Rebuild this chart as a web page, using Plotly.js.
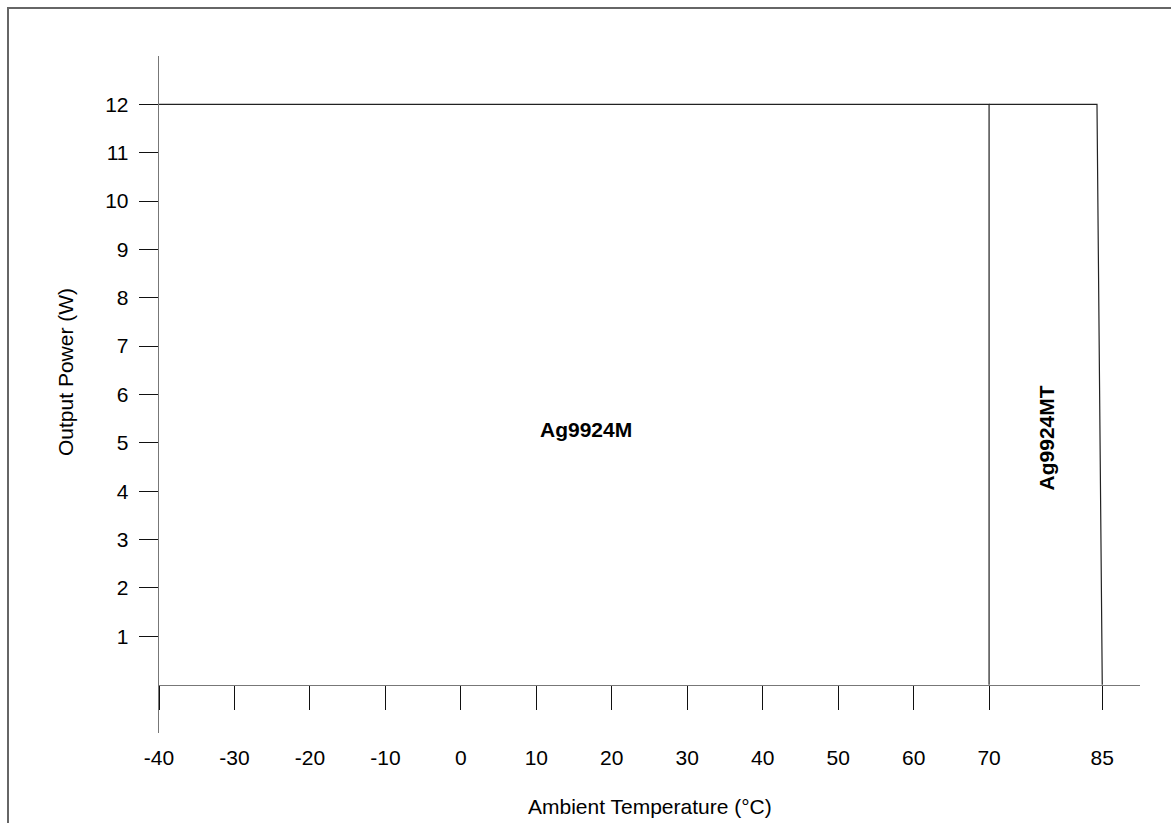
<!DOCTYPE html>
<html>
<head>
<meta charset="utf-8">
<script src="https://cdn.plot.ly/plotly-3.0.1.min.js"></script>
<style>
  html, body { margin: 0; padding: 0; background: #fff; }
  #chart { width: 1171px; height: 823px; }
</style>
</head>
<body>
<div id="chart"></div>
<script>
// Derating curves: Output Power (W) vs Ambient Temperature (°C)
const tempAg9924M = [-40, 70, 70];
const powerAg9924M = [12, 12, 0];
const tempAg9924MT = [70, 84.3, 85];
const powerAg9924MT = [12, 12, 0];

const xTickValues = [-40, -30, -20, -10, 0, 10, 20, 30, 40, 50, 60, 70, 85];
const xTickLabels = ['-40', '-30', '-20', '-10', '0', '10', '20', '30', '40', '50', '60', '70', '85'];
const yTickValues = [1, 2, 3, 4, 5, 6, 7, 8, 9, 10, 11, 12];
const yTickLabels = ['1', '2', '3', '4', '5', '6', '7', '8', '9', '10', '11', '12'];

const seriesLabels = ['Ag9924M', 'Ag9924MT'];
const xTitle = 'Ambient Temperature (°C)';
const yTitle = 'Output Power (W)';

const FONT = 'Liberation Sans, Arial, Helvetica, sans-serif';
const FS = 21;

const traces = [
  { x: tempAg9924M, y: powerAg9924M, mode: 'lines', name: seriesLabels[0],
    line: { color: '#222', width: 1.2 }, hoverinfo: 'skip' },
  { x: tempAg9924MT, y: powerAg9924MT, mode: 'lines', name: seriesLabels[1],
    line: { color: '#222', width: 1.2 }, hoverinfo: 'skip' }
];

const layout = {
  width: 1171, height: 823,
  margin: { l: 159, r: 31, t: 56, b: 90, pad: 0 },
  paper_bgcolor: '#fff', plot_bgcolor: '#fff',
  showlegend: false,
  font: { family: FONT, size: FS, color: '#000' },
  xaxis: {
    range: [-40, 90],
    anchor: 'free', position: 1 / 14,
    showgrid: false, zeroline: false,
    showline: true, linecolor: '#777', linewidth: 1.3,
    ticks: 'outside', ticklen: 24, tickwidth: 1, tickcolor: '#111',
    tickmode: 'array', tickvals: xTickValues, ticktext: xTickLabels,
    ticklabelstandoff: 30,
    tickfont: { family: FONT, size: FS, color: '#000' },
    fixedrange: true
  },
  yaxis: {
    range: [-1, 13],
    showgrid: false, zeroline: false,
    showline: true, linecolor: '#777', linewidth: 1.3,
    ticks: 'outside', ticklen: 19, tickwidth: 1, tickcolor: '#111',
    tickmode: 'array', tickvals: yTickValues, ticktext: yTickLabels,
    ticklabelstandoff: 6,
    tickfont: { family: FONT, size: FS, color: '#000' },
    fixedrange: true
  },
  shapes: [
    { type: 'rect', xref: 'paper', yref: 'paper',
      x0: (8 - 159) / 981, x1: 1.05, y0: -0.2, y1: (733 - 8) / 677,
      line: { color: '#666', width: 2 }, fillcolor: 'rgba(0,0,0,0)', layer: 'below' }
  ],
  annotations: [
    { xref: 'paper', yref: 'paper', x: (650 - 159) / 981, y: (733 - 806) / 677,
      text: xTitle, showarrow: false, xanchor: 'center', yanchor: 'middle',
      font: { family: FONT, size: FS, color: '#000' } },
    { xref: 'paper', yref: 'paper', x: (65 - 159) / 981, y: (733 - 372) / 677,
      text: yTitle, showarrow: false, textangle: -90, xanchor: 'center', yanchor: 'middle',
      font: { family: FONT, size: FS, color: '#000' } },
    { xref: 'x', yref: 'y', x: 16.6, y: 5.28,
      text: '<b>' + seriesLabels[0] + '</b>', showarrow: false,
      font: { family: FONT, size: FS, color: '#000' } },
    { xref: 'x', yref: 'y', x: 77.6, y: 5.1, textangle: -90,
      text: '<b>' + seriesLabels[1] + '</b>', showarrow: false,
      font: { family: FONT, size: FS, color: '#000' } }
  ]
};

Plotly.newPlot('chart', traces, layout, { displayModeBar: false, staticPlot: true });
</script>
</body>
</html>
